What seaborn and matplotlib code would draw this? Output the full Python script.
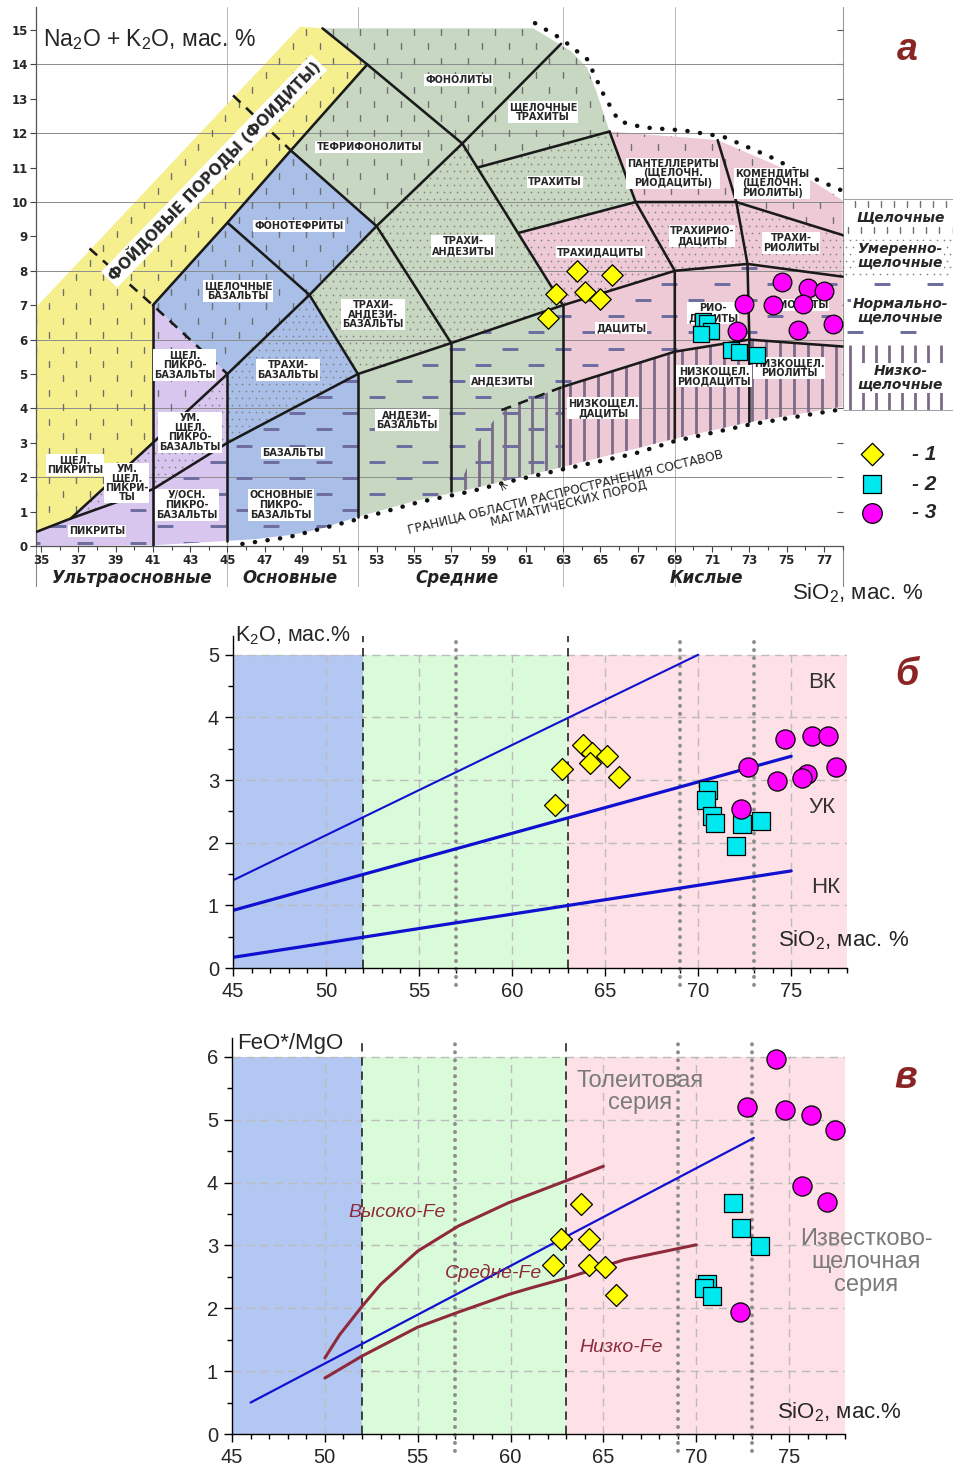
import numpy as np
import matplotlib
matplotlib.use("Agg")
import matplotlib.pyplot as plt
from matplotlib import font_manager
from matplotlib.patches import Polygon
from matplotlib.ticker import MultipleLocator
import seaborn as sns

# ---------------------------------------------------------------- data
# а: SiO2 vs Na2O+K2O
A_SIO2_1 = [63.76, 65.63, 62.63, 64.18, 64.99, 62.20]
A_ALK_1 = [7.99, 7.88, 7.33, 7.38, 7.18, 6.63]
A_SIO2_2 = [70.53, 70.75, 70.93, 70.41, 72.02, 72.43, 73.43]
A_ALK_2 = [6.55, 6.47, 6.26, 6.15, 5.70, 5.63, 5.55]
A_SIO2_3 = [74.73, 76.16, 77.00, 72.73, 74.29, 75.86, 72.32, 75.63, 77.47]
A_ALK_3 = [7.68, 7.49, 7.42, 7.03, 7.00, 7.03, 6.26, 6.28, 6.45]

# б: SiO2 vs K2O
B_SIO2_1 = [62.31, 62.70, 63.83, 64.28, 64.19, 65.12, 65.72]
B_K2O_1 = [2.60, 3.18, 3.56, 3.43, 3.27, 3.38, 3.05]
B_SIO2_2 = [70.55, 70.41, 70.77, 70.88, 72.38, 73.39, 72.03]
B_K2O_2 = [2.84, 2.68, 2.42, 2.32, 2.30, 2.35, 1.95]
B_SIO2_3 = [74.68, 76.11, 76.97, 72.70, 77.40, 74.23, 75.84, 75.57, 72.31]
B_K2O_3 = [3.65, 3.70, 3.71, 3.21, 3.21, 2.99, 3.10, 3.03, 2.54]

# в: SiO2 vs FeO*/MgO
C_SIO2_1 = [62.30, 62.70, 63.80, 64.20, 64.20, 65.10, 65.70]
C_FEMG_1 = [2.69, 3.10, 3.66, 3.11, 2.69, 2.65, 2.21]
C_SIO2_2 = [71.99, 72.39, 73.45, 70.60, 70.42, 70.83]
C_FEMG_2 = [3.67, 3.28, 2.99, 2.39, 2.33, 2.20]
C_SIO2_3 = [74.30, 72.74, 74.76, 76.19, 77.49, 75.67, 77.02, 72.35]
C_FEMG_3 = [5.97, 5.21, 5.16, 5.07, 4.83, 3.94, 3.69, 1.94]

# K2O series boundaries
K2O_HIGH_X, K2O_HIGH_Y = [45, 70], [1.40, 5.00]
K2O_MID_X, K2O_MID_Y = [45, 75], [0.92, 3.38]
K2O_LOW_X, K2O_LOW_Y = [45, 75], [0.17, 1.55]

# FeO*/MgO boundaries
THOL_X, THOL_Y = [46, 73.1], [0.50, 4.71]
FE_HIGH_X = [50, 50.8, 52, 53, 55, 57.2, 59.9, 63, 65]
FE_HIGH_Y = [1.21, 1.58, 2.03, 2.38, 2.91, 3.31, 3.68, 4.03, 4.26]
FE_LOW_X = [50, 52, 55, 57.2, 59.9, 61.05, 63, 66.1, 70]
FE_LOW_Y = [0.89, 1.24, 1.70, 1.94, 2.22, 2.32, 2.48, 2.77, 3.01]

SIO2_GROUP_EDGES = [45, 52, 63, 78]
SIO2_SUBGROUP_LINES = [57, 69, 73]

# TAS fields, grouped by fill colour
ULTRABASIC_ALK_FIELD = [(34.75, 0.41), (36.6, 0.8), (41, 3), (41, 7), (45, 9.4), (48.4, 11.5),
                        (52.5, 14.0), (50.1, 15.05), (48.9, 15.1), (34.75, 6.95)]
ULTRABASIC_FIELD = [(34.75, 0.0), (34.75, 0.41), (36.6, 0.8), (41, 3), (41, 7), (45, 5),
                    (45, 0.15), (41, 0.02)]
BASIC_FIELD = [(45, 0.15), (45, 5), (41, 7), (45, 9.4), (48.4, 11.5), (53, 9.3), (49.4, 7.3),
               (52, 5), (52, 0.85), (50, 0.5), (48.5, 0.33), (46.5, 0.2)]
INTERMEDIATE_FIELD = [(52, 0.85), (52, 5), (49.4, 7.3), (53, 9.3), (48.4, 11.5), (52.5, 14.0),
                      (50.1, 15.05), (61.4, 15.05), (63.4, 14.4), (64.3, 13.9), (64.8, 13.2),
                      (65.5, 12.05), (66.9, 10.0), (60.6, 9.1), (63, 7), (63, 2.3), (58, 1.65),
                      (55, 1.3)]
ACID_FIELD = [(63, 2.3), (63, 7), (60.6, 9.1), (66.9, 10.0), (65.5, 12.05), (71.3, 11.8),
              (74.1, 11.15), (76.4, 10.6), (78, 10.05), (78, 4.05), (73, 3.6), (69, 3.12)]

# TAS alkalinity series zones
ALKALINE_ZONE = [(34.75, 0.41), (36.6, 0.8), (41, 3), (45, 5), (49.4, 7.3), (53, 9.3),
                 (57.6, 11.7), (58.4, 11.0), (65.5, 12.05), (66.9, 10.0), (72.3, 10.0),
                 (78, 9.04), (78, 10.05), (76.4, 10.6), (74.1, 11.15), (71.3, 11.8),
                 (65.5, 12.05), (64.8, 13.2), (64.3, 13.9), (63.4, 14.4), (61.4, 15.05),
                 (48.9, 15.1), (34.75, 6.95)]
MODERATE_ZONE = [(36.6, 0.8), (41, 1.65), (45, 3), (52, 5), (57, 5.9), (63, 7), (69, 8),
                 (72.9, 8.2), (78, 7.83), (78, 9.04), (72.3, 10.0), (66.9, 10.0), (65.5, 12.05),
                 (58.4, 11.0), (57.6, 11.7), (53, 9.3), (49.4, 7.3), (45, 5), (41, 3)]
NORMAL_ZONE = [(34.75, 0.0), (34.75, 0.41), (36.6, 0.8), (41, 1.65), (45, 3), (52, 5),
               (57, 5.9), (63, 7), (69, 8), (72.9, 8.2), (78, 7.83), (78, 5.8), (73, 6.0),
               (69, 5.65), (63, 4.63), (63, 2.3), (58, 1.65), (55, 1.3), (52, 0.85), (50, 0.5),
               (48.5, 0.33), (46.5, 0.2), (45, 0.15), (41, 0.02)]
LOW_ZONE = [(63, 4.63), (69, 5.65), (73, 6.0), (78, 5.8), (78, 4.05), (73, 3.6), (69, 3.12),
            (63, 2.3)]
LOW_ANDESITE_ZONE = [(57.4, 1.6), (57.6, 1.95), (58.4, 3.0), (59.7, 3.95), (63, 4.63),
                     (63, 2.3), (58, 1.65)]

# TAS field boundaries
BOUNDARY_LINES = [
    [(34.75, 0.41), (36.6, 0.8), (41, 1.65), (45, 3), (52, 5), (57, 5.9), (63, 7), (69, 8),
     (72.9, 8.2), (78, 7.83)],
    [(36.6, 0.8), (41, 3), (45, 5), (49.4, 7.3), (53, 9.3), (57.6, 11.7), (62.9, 14.6)],
    [(41, 7), (45, 9.4), (48.4, 11.5), (52.5, 14.0)],
    [(50.1, 15.05), (52.5, 14.0), (57.6, 11.7)],
    [(45, 9.4), (49.4, 7.3), (52, 5)],
    [(48.4, 11.5), (53, 9.3), (57, 5.9)],
    [(57.6, 11.7), (63, 7)],
    [(58.4, 11.0), (65.5, 12.05)],
    [(60.6, 9.1), (66.9, 10.0), (72.3, 10.0), (78, 9.04)],
    [(65.5, 12.05), (66.9, 10.0), (69, 8), (69, 3.12)],
    [(71.3, 11.8), (72.3, 10.0), (72.9, 8.2), (73, 6.0), (73, 3.6)],
    [(63, 4.63), (69, 5.65), (73, 6.0), (78, 5.8)],
    [(41, 0.0), (41, 7)],
    [(45, 0.15), (45, 5)],
    [(52, 0.85), (52, 5)],
    [(57, 1.6), (57, 5.9)],
    [(63, 2.3), (63, 7)],
]
DASHED_BOUNDARIES = [
    [(37.6, 8.65), (41, 7), (45, 5)],
    [(45.3, 13.1), (48.4, 11.5)],
    [(59.7, 3.95), (63, 4.63)],
]
UPPER_LIMIT = [(61.5, 15.2), (62.9, 14.75), (64.3, 14.15), (65.2, 13.1), (66.0, 12.35),
               (67.3, 12.17), (69.5, 12.08), (71.6, 11.9), (74.1, 11.32), (75.9, 10.82),
               (77.9, 10.35)]
LOWER_LIMIT = [(45.8, 0.06), (48.3, 0.26), (52, 0.78), (55.3, 1.28), (58.0, 1.58),
               (60.0, 1.86), (63, 2.23), (66.8, 2.68), (69, 3.05), (73, 3.53), (78, 3.98)]

FIELD_NAMES = ['ФОНОЛИТЫ', 'ЩЕЛОЧНЫЕ\nТРАХИТЫ', 'ТЕФРИФОНОЛИТЫ', 'ТРАХИТЫ',
               'ПАНТЕЛЛЕРИТЫ\n(ЩЕЛОЧН.\nРИОДАЦИТЫ)', 'КОМЕНДИТЫ\n(ЩЕЛОЧН.\nРИОЛИТЫ)',
               'ФОНОТЕФРИТЫ', 'ТРАХИ-\nАНДЕЗИТЫ', 'ТРАХИДАЦИТЫ', 'ТРАХИРИО-\nДАЦИТЫ',
               'ТРАХИ-\nРИОЛИТЫ', 'ЩЕЛОЧНЫЕ\nБАЗАЛЬТЫ', 'ТРАХИ-\nАНДЕЗИ-\nБАЗАЛЬТЫ', 'ДАЦИТЫ',
               'РИО-\nДАЦИТЫ', 'РИОЛИТЫ', 'ЩЕЛ.\nПИКРО-\nБАЗАЛЬТЫ', 'ТРАХИ-\nБАЗАЛЬТЫ',
               'АНДЕЗИТЫ', 'НИЗКОЩЕЛ.\nРИОДАЦИТЫ', 'НИЗКОЩЕЛ.\nРИОЛИТЫ', 'НИЗКОЩЕЛ.\nДАЦИТЫ',
               'УМ.\nЩЕЛ.\nПИКРО-\nБАЗАЛЬТЫ', 'АНДЕЗИ-\nБАЗАЛЬТЫ', 'ЩЕЛ.\nПИКРИТЫ', 'БАЗАЛЬТЫ',
               'УМ.\nЩЕЛ.\nПИКРИ-\nТЫ', 'У/ОСН.\nПИКРО-\nБАЗАЛЬТЫ', 'ОСНОВНЫЕ\nПИКРО-\nБАЗАЛЬТЫ',
               'ПИКРИТЫ']
FIELD_X = [57.42, 61.93, 52.60, 62.58, 68.90, 74.22, 48.84, 57.64, 64.99, 70.46, 75.23, 45.57,
           52.81, 66.12, 71.05, 75.72, 42.70, 48.25, 59.73, 71.10, 75.13, 65.15, 43.00, 54.64,
           36.82, 48.52, 39.60, 42.83, 47.88, 38.00]
FIELD_Y = [13.55, 12.62, 11.60, 10.58, 10.84, 10.55, 9.30, 8.72, 8.55, 9.01, 8.81, 7.41, 6.74,
           6.34, 6.77, 7.00, 5.26, 5.12, 4.80, 4.94, 5.17, 4.01, 3.31, 3.66, 2.35, 2.70, 1.83,
           1.19, 1.19, 0.44]

ROCK_GROUPS = ['Ультраосновные', 'Основные', 'Средние', 'Кислые']
ROCK_GROUP_X = [39.88, 48.36, 57.32, 70.68]
SERIES_NAMES = ['Щелочные', 'Умеренно-\nщелочные', 'Нормально-\nщелочные', 'Низко-\nщелочные']
SERIES_BANDS = [10.08, 9.04, 7.82, 5.84, 3.95]

# ---------------------------------------------------------------- styling
sns.set_theme(style="white")
_names = {f.name for f in font_manager.fontManager.ttflist}
NARROW = "Liberation Sans Narrow" if "Liberation Sans Narrow" in _names else "Liberation Sans"
plt.rcParams["font.family"] = ["DejaVu Sans"]
plt.rcParams["mathtext.fontset"] = "custom"
plt.rcParams["mathtext.rm"] = NARROW
plt.rcParams["mathtext.default"] = "regular"
plt.rcParams["axes.unicode_minus"] = False

C_YELLOW, C_LAV, C_BLUE, C_GREEN, C_PINK = "#f6ef8e", "#d9c6ee", "#a9bfe8", "#c7d7c1", "#edcad6"
SPAN_COLORS = ["#b3c7f3", "#d9fbd9", "#fde1e6"]
MARKER_STYLE = [("D", "#ffff00", 125), ("s", "#00e8f0", 150), ("o", "#ff00ff", 190)]
LABEL_RED = "#8b2525"

W, H = 954, 1468
fig = plt.figure(figsize=(W / 100, H / 100), dpi=100)
fig.patch.set_facecolor("white")


def px_axes(left, right, bottom, top):
    return fig.add_axes([left / W, 1 - bottom / H, (right - left) / W, (bottom - top) / H])


def clip_shape(ax, verts):
    return Polygon(verts, closed=True, transform=ax.transData, fc="none", ec="none")


def staggered_grid(x0, x1, y0, y1, dx, dy):
    xs, ys = [], []
    for i, y in enumerate(np.arange(y0, y1, dy)):
        off = dx / 2 if i % 2 else 0.0
        row = np.arange(x0 + off, x1, dx)
        xs.extend(row)
        ys.extend([y] * len(row))
    return np.array(xs), np.array(ys)


def marker_pattern(ax, verts, grid, marker, ms, mew, color, z=2.2):
    xs, ys = grid
    ln, = ax.plot(xs, ys, ls="none", marker=marker, ms=ms, mew=mew, color=color,
                  mfc=color, mec=color, zorder=z)
    ln.set_clip_path(clip_shape(ax, verts))


def line_pattern(ax, verts, xs, y0, y1, color, lw, z=2.2):
    coll = ax.vlines(xs, y0, y1, colors=color, lw=lw, zorder=z)
    coll.set_clip_path(clip_shape(ax, verts))


TICK_GRID = staggered_grid(34.0, 84.5, 0.25, 15.7, 1.45, 0.42)
DOT_GRID = staggered_grid(34.1, 84.5, 0.1, 15.7, 0.36, 0.2)
DASH_GRID = staggered_grid(34.5, 84.5, 0.10, 15.7, 2.85, 0.47)

# ---------------------------------------------------------------- panel а
ax = px_axes(36, 954.4, 546, 7)
ax.set_xlim(34.73, 84.0)
ax.set_ylim(0, 15.67)
ax.set_facecolor("white")
for s in ax.spines.values():
    s.set_visible(False)
ax.spines["left"].set_visible(True)
ax.spines["bottom"].set_visible(True)
ax.spines["left"].set_bounds(0, 15.67)
ax.spines["bottom"].set_bounds(34.73, 78)
for s in ("left", "bottom"):
    ax.spines[s].set_color("#555555")
    ax.spines[s].set_linewidth(0.9)
ax.set_xticks(np.arange(35, 78, 2))
ax.set_xticks(np.arange(35, 79, 1), minor=True)
ax.set_yticks(np.arange(0, 16, 1))
ax.tick_params(axis="both", which="both", direction="out", color="#444444", width=0.8,
               labelsize=8.5, pad=2, bottom=True, left=True)
ax.tick_params(which="major", length=4)
ax.tick_params(which="minor", length=3)
for lab in ax.get_xticklabels() + ax.get_yticklabels():
    lab.set_fontweight("bold")

# background grid
for y in range(2, 16, 2):
    ax.plot([34.73, 77.4 if y <= 4 else 78], [y, y], color="#8c8c8c", lw=0.7, zorder=1.5)
for x in [45, 52, 63, 69]:
    ax.plot([x, x], [-1.15, 15.67], color="#b5b5b5", lw=0.7, zorder=0.5, clip_on=False)
for x in [34.73, 78]:
    ax.plot([x, x], [-1.15, 0], color="#888888", lw=0.8, zorder=0.5, clip_on=False)
ax.plot([78, 78], [4.0, 15.67], color="#9a9a9a", lw=0.8, zorder=0.5)
ax.hlines(np.arange(1, 16), 77.7, 78, color="#555555", lw=0.8, zorder=0.6)

# coloured fields
for verts, col in [(ULTRABASIC_ALK_FIELD, C_YELLOW), (ULTRABASIC_FIELD, C_LAV),
                   (BASIC_FIELD, C_BLUE), (INTERMEDIATE_FIELD, C_GREEN), (ACID_FIELD, C_PINK)]:
    ax.add_patch(Polygon(verts, closed=True, fc=col, ec="none", zorder=1))

# alkalinity patterns
marker_pattern(ax, ALKALINE_ZONE, TICK_GRID, "|", 5, 1.0, "#707070")
marker_pattern(ax, MODERATE_ZONE, DOT_GRID, "o", 1.2, 0, "#808080")
marker_pattern(ax, NORMAL_ZONE, DASH_GRID, "_", 11, 1.8, "#6f6ea0")
line_pattern(ax, LOW_ZONE, np.arange(63.4, 78, 0.75), 2.0, 6.2, "#7b6a88", 2.0)
line_pattern(ax, LOW_ANDESITE_ZONE, np.arange(57.75, 63, 0.72), 1.4, 4.7, "#7b6a88", 2.0)

# boundaries
for poly in BOUNDARY_LINES:
    xs, ys = zip(*poly)
    ax.plot(xs, ys, color="#1a1a1a", lw=1.85, zorder=3, solid_capstyle="round")
for poly in DASHED_BOUNDARIES:
    xs, ys = zip(*poly)
    ax.plot(xs, ys, color="#1a1a1a", lw=1.85, zorder=3, dashes=(4, 3))
for poly in (UPPER_LIMIT, LOWER_LIMIT):
    xs, ys = zip(*poly)
    ax.plot(xs, ys, color="#111111", lw=3.2, ls=(0, (0.05, 2.8)), dash_capstyle="round",
            zorder=3)

# field names
box = dict(boxstyle="square,pad=0.1", fc="white", ec="none")
for name, x, y in zip(FIELD_NAMES, FIELD_X, FIELD_Y):
    ax.text(x, y, name, fontsize=7, fontweight="bold", ha="center", va="center",
            linespacing=0.95, bbox=box, zorder=4)
ax.text(44.28, 10.9, "ФОЙДОВЫЕ ПОРОДЫ (ФОИДИТЫ)", fontsize=10.8, fontweight="bold",
        rotation=46, rotation_mode="anchor", ha="center", va="center", zorder=4,
        bbox=dict(boxstyle="square,pad=0.15", fc="white", ec="none"))
ax.text(63.2, 1.40, "ГРАНИЦА ОБЛАСТИ РАСПРОСТРАНЕНИЯ СОСТАВОВ\nМАГМАТИЧЕСКИХ ПОРОД",
        fontsize=8.7, rotation=13.6, rotation_mode="anchor", ha="center", va="center",
        linespacing=1.0, zorder=4, color="#222222")
ax.annotate("", xy=(59.5, 1.9), xytext=(60.05, 1.6),
            arrowprops=dict(arrowstyle="->", lw=0.7, color="#333333"), zorder=4)

# alkalinity series key
band_ticks = staggered_grid(78.3, 84.1, 9.2, 10.0, 0.7, 0.75)
marker_pattern(ax, [(78, 9.04), (84, 9.04), (84, 10.08), (78, 10.08)],
               (band_ticks[0], band_ticks[1]), "|", 5, 1.0, "#707070")
marker_pattern(ax, [(78, 7.82), (84, 7.82), (84, 9.04), (78, 9.04)],
               DOT_GRID, "o", 1.2, 0, "#808080")
marker_pattern(ax, [(78, 5.84), (84, 5.84), (84, 7.82), (78, 7.82)],
               DASH_GRID, "_", 11, 1.8, "#6f6ea0")
line_pattern(ax, [(78, 3.95), (84, 3.95), (84, 5.84), (78, 5.84)],
             np.arange(78.4, 84, 0.7), 3.95, 5.84, "#7b6a88", 2.0)
for yb in (SERIES_BANDS[0], SERIES_BANDS[-1]):
    ax.plot([78, 84], [yb, yb], color="#a0a0a0", lw=0.7, zorder=1.5, clip_on=False)
for name, y0, y1 in zip(SERIES_NAMES, SERIES_BANDS[1:], SERIES_BANDS[:-1]):
    ax.text(81.1, (y0 + y1) / 2, name, fontsize=10, fontweight="bold", fontstyle="italic",
            ha="center", va="center", linespacing=0.95, zorder=4,
            bbox=dict(boxstyle="square,pad=0.1", fc="white", ec="none"))

# samples
for xs, ys, (mk, col, sz) in zip([A_SIO2_1, A_SIO2_2, A_SIO2_3], [A_ALK_1, A_ALK_2, A_ALK_3],
                                 MARKER_STYLE):
    sns.scatterplot(x=xs, y=ys, marker=mk, s=sz * 0.95, color=col, edgecolor="black",
                    linewidth=0.9, ax=ax, zorder=5, legend=False)

# legend
for i, (mk, col, sz) in enumerate(MARKER_STYLE):
    yy = [2.67, 1.80, 0.96][i]
    ax.scatter([79.58], [yy], marker=mk, s=sz * 1.05, c=col, edgecolors="black",
               linewidths=0.9, zorder=5, clip_on=False)
    ax.text(81.7, yy, f"- {i + 1}", fontsize=15, fontweight="bold", fontstyle="italic",
            ha="left", va="center", family="Liberation Sans", zorder=5)

for name, x in zip(ROCK_GROUPS, ROCK_GROUP_X):
    ax.text(x, -0.93, name, fontsize=12, fontweight="bold", fontstyle="italic",
            ha="center", va="center", color="#222222", clip_on=False)
ax.text(35.1, 14.72, "Na$_2$O + K$_2$O, мас. %", fontsize=16.5, family="Liberation Sans",
        ha="left", va="center", zorder=6)
ax.text(78.78, -1.36, "SiO$_2$, мас. %", fontsize=16, family="Liberation Sans",
        ha="center", va="center", clip_on=False)
ax.text(81.46, 14.42, "а", fontsize=27, fontweight="bold", fontstyle="italic",
        family="Liberation Sans", color=LABEL_RED, ha="center", va="center")


# ---------------------------------------------------------------- panels б, в
def series_panel(ax, ytop, ymax, yminor):
    ax.set_xlim(45, 78)
    ax.set_ylim(0, ymax)
    ax.set_facecolor("white")
    for s in ("top", "right"):
        ax.spines[s].set_visible(False)
    for s in ("left", "bottom"):
        ax.spines[s].set_color("black")
        ax.spines[s].set_linewidth(1.0)
        ax.spines[s].set_zorder(6)
    for x0, x1, col in zip(SIO2_GROUP_EDGES[:-1], SIO2_GROUP_EDGES[1:], SPAN_COLORS):
        ax.fill_between([x0, x1], 0, ytop, color=col, lw=0, zorder=0)
    for y in range(1, ytop + 1):
        ax.plot([45, 78], [y, y], color="#bcbcbc", lw=1.0, dashes=(6, 4), zorder=0.5)
    for x in range(50, 78, 5):
        ax.plot([x, x], [0, ytop], color="#bcbcbc", lw=1.0, dashes=(6, 4), zorder=0.5)
    for x in SIO2_GROUP_EDGES[1:3]:
        ax.plot([x, x], [0, ymax], color="#222222", lw=1.2, dashes=(5, 3.5), zorder=1)
    for x in SIO2_SUBGROUP_LINES:
        ax.plot([x, x], [-0.27, ymax - 0.05], color="#8c8c8c", lw=2.8, ls=(0, (0.05, 2.0)),
                dash_capstyle="round", zorder=1, clip_on=False)
    ax.set_xticks(range(45, 79, 5))
    ax.xaxis.set_minor_locator(MultipleLocator(1))
    ax.set_yticks(range(0, ytop + 1))
    ax.yaxis.set_minor_locator(MultipleLocator(yminor))
    ax.tick_params(axis="both", which="both", direction="out", color="black", width=1.0,
                   bottom=True, left=True, labelsize=14.5, pad=4)
    ax.tick_params(which="major", length=6)
    ax.tick_params(which="minor", length=3.5)
    for lab in ax.get_xticklabels() + ax.get_yticklabels():
        lab.set_family(NARROW)


def samples(ax, xs_list, ys_list):
    for xs, ys, (mk, col, sz) in zip(xs_list, ys_list, MARKER_STYLE):
        sns.scatterplot(x=xs, y=ys, marker=mk, s=sz, color=col, edgecolor="black",
                        linewidth=0.9, ax=ax, zorder=5, legend=False, clip_on=False)


# б
axb = px_axes(233, 847, 968, 636)
series_panel(axb, 5, 5.3, 0.5)
sns.lineplot(x=K2O_HIGH_X, y=K2O_HIGH_Y, ax=axb, color="#1010d0", lw=1.5, zorder=3)
sns.lineplot(x=K2O_MID_X, y=K2O_MID_Y, ax=axb, color="#1010d0", lw=2.3, zorder=3)
sns.lineplot(x=K2O_LOW_X, y=K2O_LOW_Y, ax=axb, color="#1010d0", lw=2.3, zorder=3)
samples(axb, [B_SIO2_1, B_SIO2_2, B_SIO2_3], [B_K2O_1, B_K2O_2, B_K2O_3])
axb.text(45.1, 5.3, "K$_2$O, мас.%", family=NARROW, fontsize=15.5, ha="left", va="center",
         zorder=7)
for txt, x, y in [("ВК", 76.67, 4.55), ("УК", 76.67, 2.56), ("НК", 76.88, 1.28)]:
    axb.text(x, y, txt, family=NARROW, fontsize=16, color="#333333", ha="center",
             va="center")
axb.text(77.8, 0.45, "SiO$_2$, мас. %", family=NARROW, fontsize=16, ha="center",
         va="center", zorder=7)
axb.text(81.2, 4.68, "б", fontsize=27, fontweight="bold", fontstyle="italic",
         family="Liberation Sans", color=LABEL_RED, ha="center", va="center", clip_on=False)

# в
axc = px_axes(232, 844.8, 1434, 1038)
series_panel(axc, 6, 6.3, 0.5)
sns.lineplot(x=FE_HIGH_X, y=FE_HIGH_Y, ax=axc, color="#8e2a3c", lw=2.2, zorder=3)
sns.lineplot(x=FE_LOW_X, y=FE_LOW_Y, ax=axc, color="#8e2a3c", lw=2.2, zorder=3)
sns.lineplot(x=THOL_X, y=THOL_Y, ax=axc, color="#1010d0", lw=1.6, zorder=3)
samples(axc, [C_SIO2_1, C_SIO2_2, C_SIO2_3], [C_FEMG_1, C_FEMG_2, C_FEMG_3])
axc.text(45.3, 6.22, "FeO*/MgO", family=NARROW, fontsize=16, ha="left", va="center",
         zorder=7)
axc.text(66.97, 5.44, "Толеитовая\nсерия", family=NARROW, fontsize=17, color="#7a7a7a",
         ha="center", va="center", linespacing=1.05)
axc.text(79.14, 2.74, "Известково-\nщелочная\nсерия", family=NARROW, fontsize=17,
         color="#7a7a7a", ha="center", va="center", linespacing=1.05, clip_on=False)
for txt, x, y in [("Высоко-Fe", 53.89, 3.52), ("Средне-Fe", 59.11, 2.56),
                  ("Низко-Fe", 65.95, 1.38)]:
    axc.text(x, y, txt, family=NARROW, fontsize=14, fontstyle="italic", color="#8e2a3c",
             ha="center", va="center", zorder=4)
axc.text(77.7, 0.35, "SiO$_2$, мас.%", family=NARROW, fontsize=16, ha="center",
         va="center", zorder=7)
axc.text(81.3, 5.67, "в", fontsize=27, fontweight="bold", fontstyle="italic",
         family="Liberation Sans", color=LABEL_RED, ha="center", va="center", clip_on=False)

fig.savefig("out.png", dpi=100, facecolor="white")
